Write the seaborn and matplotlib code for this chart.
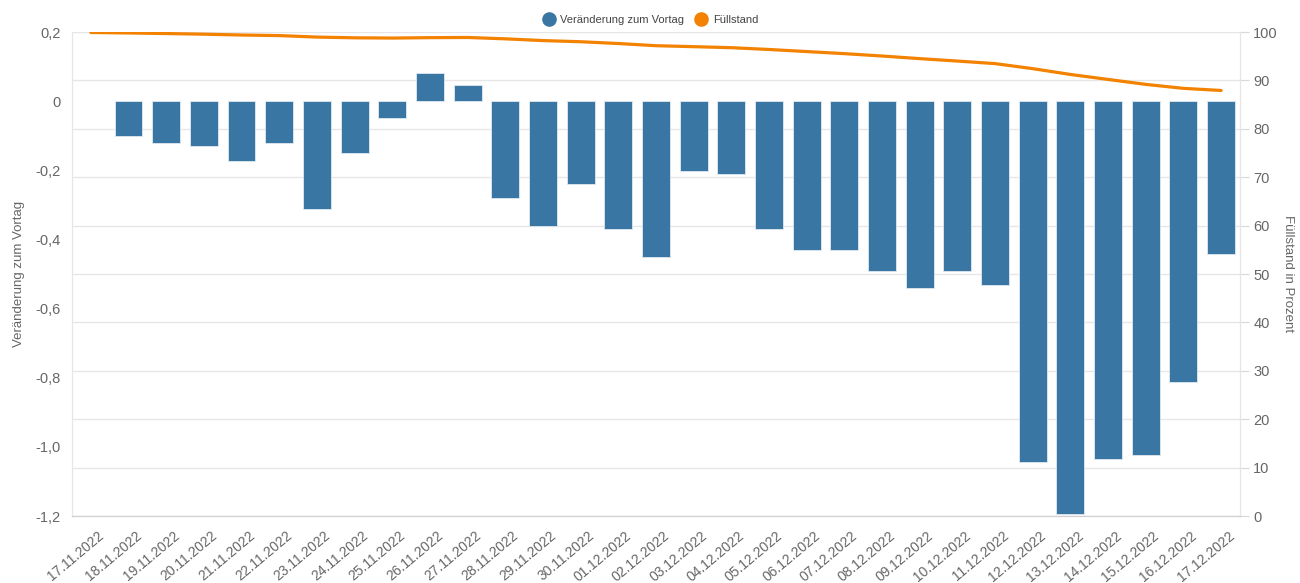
import numpy as np
import pandas as pd
import matplotlib
matplotlib.use("Agg")
import matplotlib.pyplot as plt
import matplotlib.transforms as mtransforms
from matplotlib.lines import Line2D
import seaborn as sns

# Daten
datum = ["17.11.2022", "18.11.2022", "19.11.2022", "20.11.2022", "21.11.2022",
         "22.11.2022", "23.11.2022", "24.11.2022", "25.11.2022", "26.11.2022",
         "27.11.2022", "28.11.2022", "29.11.2022", "30.11.2022", "01.12.2022",
         "02.12.2022", "03.12.2022", "04.12.2022", "05.12.2022", "06.12.2022",
         "07.12.2022", "08.12.2022", "09.12.2022", "10.12.2022", "11.12.2022",
         "12.12.2022", "13.12.2022", "14.12.2022", "15.12.2022", "16.12.2022",
         "17.12.2022"]
veraenderung = [np.nan, -0.100, -0.121, -0.130, -0.172, -0.121, -0.311, -0.150,
                -0.050, 0.080, 0.048, -0.281, -0.362, -0.241, -0.371, -0.452,
                -0.201, -0.211, -0.371, -0.431, -0.431, -0.492, -0.540, -0.492,
                -0.532, -1.044, -1.194, -1.034, -1.023, -0.813, -0.442]
fuellstand = [99.90, 99.80, 99.68, 99.55, 99.38, 99.26, 98.95, 98.80, 98.75,
              98.83, 98.87, 98.59, 98.23, 97.99, 97.62, 97.17, 96.97, 96.76,
              96.39, 95.96, 95.53, 95.04, 94.50, 94.00, 93.47, 92.43, 91.23,
              90.20, 89.18, 88.36, 87.92]
links_ticks = [-1.2, -1.0, -0.8, -0.6, -0.4, -0.2, 0, 0.2]
links_labels = ["-1,2", "-1,0", "-0,8", "-0,6", "-0,4", "-0,2", "0", "0,2"]
rechts_ticks = [0, 10, 20, 30, 40, 50, 60, 70, 80, 90, 100]

blau = "#3a76a3"
orange = "#f28200"
grau = "#666666"

df = pd.DataFrame({"Datum": datum, "Veraenderung": veraenderung,
                   "Fuellstand": fuellstand})
df["idx"] = range(len(df))

sns.set_style("white")
plt.rcParams["font.family"] = ["Liberation Sans", "DejaVu Sans"]

fig = plt.figure(figsize=(13, 5.83), dpi=100)
ax = fig.add_axes([0.0554, 0.1149, 0.8984, 0.8302])
ax2 = ax.twinx()

# Gitterlinien (an der rechten Achse ausgerichtet) hinter den Balken
for t in rechts_ticks:
    ax.axhline(-1.2 + 1.4 * t / 100, color="#e6e6e6", linewidth=1, zorder=0)

# Balken: Veränderung zum Vortag
sns.barplot(data=df, x="Datum", y="Veraenderung", order=datum, color=blau,
            saturation=1, width=0.74, edgecolor="#dfe8f0", linewidth=0.6, ax=ax,
            zorder=3)
ax.set_xlim(-0.5, len(datum) - 0.5)
ax.set_ylim(-1.2, 0.2)
ax.set_yticks(links_ticks)
ax.set_yticklabels(links_labels)
ax.tick_params(axis="y", length=0, labelsize=10.5, colors=grau, pad=8)
ax.tick_params(axis="x", length=0, labelsize=10, colors=grau, pad=9)
versatz = mtransforms.ScaledTranslation(0.07, 0, fig.dpi_scale_trans)
for lab in ax.get_xticklabels():
    lab.set_rotation(40)
    lab.set_ha("right")
    lab.set_rotation_mode("anchor")
    lab.set_transform(lab.get_transform() + versatz)
ax.set_xlabel("")
ax.set_ylabel("Veränderung zum Vortag", color=grau, fontsize=9.5, labelpad=8)

# Linie: Füllstand
sns.lineplot(data=df, x="idx", y="Fuellstand", color=orange, linewidth=2.3,
             ax=ax2, zorder=4)
ax2.set_ylim(0, 100)
ax2.set_yticks(rechts_ticks)
ax2.tick_params(axis="y", length=6.5, width=0.8, labelsize=10.5,
                labelcolor=grau, color="#d8d8d8", pad=3)
ax2.set_ylabel("Füllstand in Prozent", color=grau, fontsize=9.5, rotation=270,
               labelpad=12)
ax2.set_xlabel("")
ax2.grid(False)
ax.set_zorder(ax2.get_zorder() - 1)
ax.patch.set_visible(False)
ax2.patch.set_visible(False)
for a in (ax, ax2):
    a.spines["top"].set_visible(False)
    a.spines["left"].set_color("#e6e6e6")
    a.spines["right"].set_color("#e6e6e6")
    a.spines["bottom"].set_color("#d0d0d0")

# Legende
handles = [Line2D([], [], marker="o", linestyle="", markersize=9.5,
                  markerfacecolor=blau, markeredgecolor=blau),
           Line2D([], [], marker="o", linestyle="", markersize=9.5,
                  markerfacecolor=orange, markeredgecolor=orange)]
fig.legend(handles, ["Veränderung zum Vortag", "Füllstand"], loc="center",
           bbox_to_anchor=(0.5, 0.966), ncol=2, frameon=False, fontsize=8,
           labelcolor="#444444", handletextpad=0.45, columnspacing=0.9,
           handlelength=1.2)

fig.savefig("out.png", dpi=100)
